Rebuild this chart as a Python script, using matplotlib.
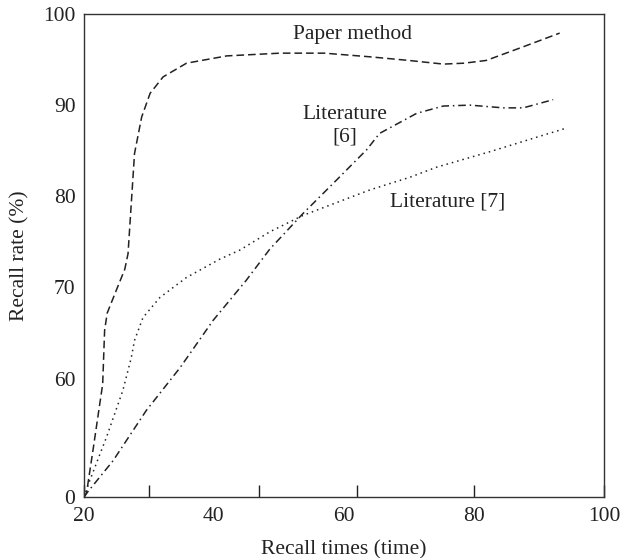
import matplotlib
matplotlib.use("Agg")
import matplotlib.pyplot as plt

# values
paper_x = [20, 20.4, 21.4, 22.2, 22.9, 23.2, 23.6, 25.0, 26.3, 26.8, 27.3, 27.8,
           28.9, 30.2, 32.2, 35.8, 42, 50.2, 57, 64, 70, 75.3, 78.5, 81.9, 87.6, 93.2]
paper_y = [47, 47.4, 52.1, 56.0, 59.4, 65.3, 67.2, 69.7, 72.0, 73.7, 79.2, 84.7,
           88.7, 91.3, 93.1, 94.6, 95.4, 95.7, 95.7, 95.3, 94.9, 94.5, 94.6, 94.9, 96.4, 97.9]

lit6_x = [20, 20.4, 24.5, 29.6, 34.8, 39.9, 45, 48.6, 53.7, 58.9, 63.5, 65.5,
          71.2, 75.3, 79.4, 84.5, 87.6, 92.2]
lit6_y = [47, 47.4, 51.0, 56.5, 61.2, 66.4, 70.8, 74.2, 78.1, 81.8, 85.1, 86.9,
          89.1, 89.9, 90.0, 89.7, 89.7, 90.6]

lit7_x = [20, 20.9, 23.5, 26.0, 27.3, 27.8, 29.1, 31.7, 35.8, 40.9, 44, 48.6,
          53.7, 64, 70.2, 74.3, 82.5, 94.3]
lit7_y = [47, 48.8, 53.6, 58.7, 62.3, 64.2, 66.7, 68.9, 71.1, 73.1, 74.1, 76.1,
          77.9, 80.7, 82.1, 83.2, 84.9, 87.5]

x_labels = [20, 40, 60, 80, 100]
x_marks = [20, 30, 47, 62, 80, 100]
y_ticks = [47, 60, 70, 80, 90, 100]
y_labels = ["0", "60", "70", "80", "90", "100"]

plt.rcParams['font.family'] = ['Liberation Serif', 'DejaVu Serif']
ink = '#222222'
fs = 15.5

fig = plt.figure(figsize=(6.35, 5.58), dpi=100)
ax = fig.add_axes([0.132, 0.109, 0.819, 0.866])

ax.plot(paper_x, paper_y, color=ink, lw=1.1, linestyle=(0, (5, 2.6)))
ax.plot(lit6_x, lit6_y, color=ink, lw=1.1, linestyle=(0, (5, 2.5, 1, 2.5)))
ax.plot(lit7_x, lit7_y, color=ink, lw=1.1, linestyle=(0, (1, 2.6)))

ax.set_xlim(20, 100)
ax.set_ylim(47, 100)

# tick marks and labels sit at different places on the x axis
ax.xaxis.remove_overlapping_locs = False
ax.set_xticks(x_marks)
ax.set_xticklabels([])
ax.tick_params(axis='x', direction='in', length=9, width=1.0, color=ink)
ax.set_xticks(x_labels, minor=True)
ax.set_xticklabels([str(v) for v in x_labels], minor=True)
ax.tick_params(axis='x', which='minor', length=0, pad=7, labelsize=fs, labelcolor=ink)

ax.set_yticks(y_ticks)
ax.set_yticklabels(y_labels)
ax.tick_params(axis='y', length=0, pad=6, labelsize=fs, labelcolor=ink)

for s in ax.spines.values():
    s.set_color('#333333')
    s.set_linewidth(1.0)

ax.set_xlabel('Recall times (time)', fontsize=fs, color=ink, labelpad=10)
ax.set_ylabel('Recall rate (%)', fontsize=fs, color=ink, labelpad=10)

ax.text(61.4, 97.7, 'Paper method', fontsize=fs, color=ink, ha='center', va='center')
ax.text(60.2, 87.7, 'Literature\n[6]', fontsize=fs, color=ink, ha='center', va='center',
        linespacing=1.25)
ax.text(75.9, 79.4, 'Literature [7]', fontsize=fs, color=ink, ha='center', va='center')

fig.savefig('out.png', dpi=100)
